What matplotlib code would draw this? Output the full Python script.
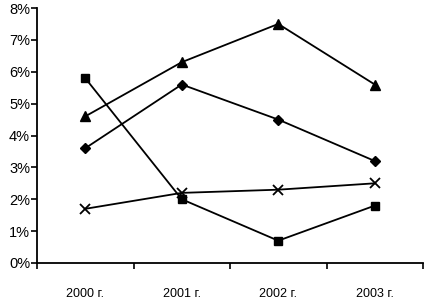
import matplotlib
matplotlib.use("Agg")
import matplotlib.pyplot as plt
from matplotlib.ticker import FixedLocator, NullFormatter

categories = ["2000 г.", "2001 г.", "2002 г.", "2003 г."]
triangle = [4.6, 6.3, 7.5, 5.6]
diamond = [3.6, 5.6, 4.5, 3.2]
square = [5.8, 2.0, 0.7, 1.8]
cross = [1.7, 2.2, 2.3, 2.5]
yticks = [0, 1, 2, 3, 4, 5, 6, 7, 8]

plt.rcParams['font.family'] = ['Liberation Sans', 'DejaVu Sans']
fig = plt.figure(figsize=(4.24, 2.99), dpi=100)
ax = fig.add_axes([37/424, 1-263/299, (423-37)/424, (263-8)/299])

x = list(range(len(categories)))
ax.plot(x, triangle, color='black', lw=1.3, marker='^', ms=7)
ax.plot(x, diamond, color='black', lw=1.3, marker='D', ms=5.5)
ax.plot(x, square, color='black', lw=1.3, marker='s', ms=6)
ax.plot(x, cross, color='black', lw=1.3, marker='x', ms=7, mew=1.3)

ax.set_xlim(-0.5, len(categories) - 0.5)
ax.set_ylim(0, 8)
ax.set_yticks(yticks)
ax.set_yticklabels([f"{v}%" for v in yticks], fontsize=10.5)
ax.set_xticks(x)
ax.set_xticklabels(categories, fontsize=9)
ax.tick_params(axis='x', which='major', length=0, pad=18)
ax.xaxis.set_minor_locator(FixedLocator([i + 0.5 for i in range(-1, len(categories))]))
ax.xaxis.set_minor_formatter(NullFormatter())
ax.tick_params(axis='x', which='minor', length=4, width=1.2, direction='out')
ax.tick_params(axis='y', length=4, width=1.2, direction='out', pad=1)
for s in ['top', 'right']:
    ax.spines[s].set_visible(False)
for s in ['left', 'bottom']:
    ax.spines[s].set_linewidth(1.3)
fig.savefig("out.png", dpi=100)
